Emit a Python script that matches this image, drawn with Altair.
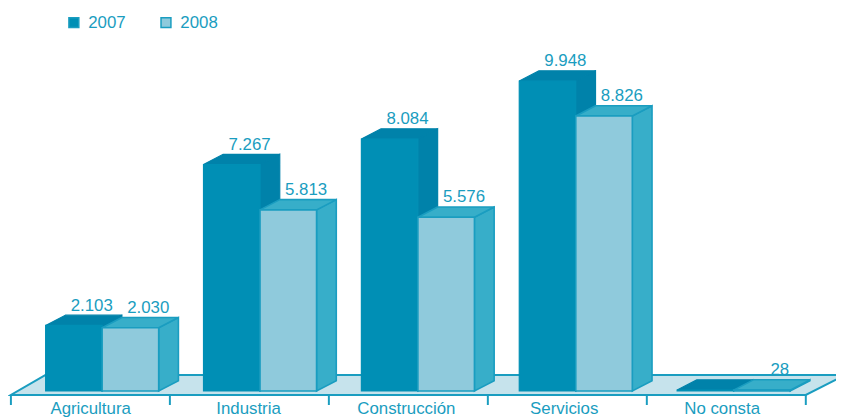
import altair as alt
import pandas as pd

categories = ["Agricultura", "Industria", "Construcción", "Servicios", "No consta"]
values_2007 = [2103, 7267, 8084, 9948, 30]
values_2008 = [2030, 5813, 5576, 8826, 28]
labels_2007 = ["2.103", "7.267", "8.084", "9.948", ""]
labels_2008 = ["2.030", "5.813", "5.576", "8.826", "28"]

BLUE = "#1a9dc0"
COL = {"2007": ("#008fb5", "#0082aa"), "2008": ("#8fcadc", "#37aec9")}
STEP = 159.4      # px per category
BAR = 0.358       # bar width, category units
DX = 0.125        # depth, category units
DY = 330          # depth, value units
FONT = 17

xs = alt.Scale(domain=[(8 - 46) / STEP, (844 - 46) / STEP], range=[0, 836], nice=False, zero=False)
ys = alt.Scale(domain=[-836, 12229], range=[411, 0], nice=False, zero=False)
X = lambda f: alt.X(f, scale=xs, axis=None)
Y = lambda f: alt.Y(f, scale=ys, axis=None)

bars, sides, tops = [], [], []
for i, c in enumerate(categories):
    for j, (s, vals, labs) in enumerate((("2007", values_2007, labels_2007), ("2008", values_2008, labels_2008))):
        v = vals[i]
        x0 = i + j * BAR
        x1 = x0 + BAR
        k = f"{c}-{s}"
        bars.append(dict(k=k, s=s, x0=x0, x1=x1, v=v, b=0, lab=labs[i], xc=(x0 + x1) / 2))
        sides += [dict(k=k, s=s, x=x1, y=v, y2=0), dict(k=k, s=s, x=x1 + DX, y=v + DY, y2=DY)]
        tops += [dict(k=k, s=s, y=v, x=x0, x2=x1), dict(k=k, s=s, y=v + DY, x=x0 + DX, x2=x1 + DX)]
bars, sides, tops = map(pd.DataFrame, (bars, sides, tops))

LEFT = -0.22
floor = pd.DataFrame([
    dict(y=-128, x=LEFT, x2=LEFT + 5.035),
    dict(y=514, x=LEFT + 0.22, x2=LEFT + 5.285),
])
ticks = pd.DataFrame(dict(x=[LEFT + i * 1.007 for i in range(6)], y=-128, y2=-450))
cats = pd.DataFrame(dict(c=categories, x=[LEFT + 0.505 + i for i in range(5)], y=-580))

layers = [
    alt.Chart(floor).mark_area(orient="horizontal", fill="#c6e3ec", stroke=BLUE, strokeWidth=2).encode(
        y=Y("y:Q"), x=X("x:Q"), x2="x2:Q"),
    alt.Chart(ticks).mark_rule(stroke=BLUE, strokeWidth=2).encode(x=X("x:Q"), y=Y("y:Q"), y2="y2:Q"),
]

for s in ("2007", "2008"):
    front, shade = COL[s]
    st = shade if s == "2007" else BLUE
    sw = 1.2 if s == "2007" else 1.6
    layers += [
        alt.Chart(sides[sides.s == s]).mark_area(orient="vertical", fill=shade, stroke=st, strokeWidth=sw).encode(
            x=X("x:Q"), y=Y("y:Q"), y2="y2:Q", detail="k:N"),
        alt.Chart(tops[tops.s == s]).mark_area(orient="horizontal", fill=shade, stroke=st, strokeWidth=sw).encode(
            y=Y("y:Q"), x=X("x:Q"), x2="x2:Q", detail="k:N"),
        alt.Chart(bars[bars.s == s]).mark_rect(stroke=st if s == "2008" else front, strokeWidth=sw).encode(
            x=X("x0:Q"), x2="x1:Q", y=Y("v:Q"), y2="b:Q",
            color=alt.Color("s:N", scale=alt.Scale(domain=["2007", "2008"], range=[COL["2007"][0], COL["2008"][0]]),
                            legend=alt.Legend(title=None, orient="none", legendX=58, legendY=4, direction="horizontal",
                                              symbolType="square", symbolSize=100, symbolStrokeWidth=1.5,
                                              symbolStrokeColor=BLUE, labelFontSize=FONT, labelColor=BLUE,
                                              labelFont="Liberation Sans", columnPadding=32, labelOffset=6))),
    ]

layers.append(
    alt.Chart(bars).mark_text(font="Liberation Sans", fontSize=FONT, color=BLUE, baseline="middle", align="center", dx=18, dy=-20).encode(
        x=X("xc:Q"), y=Y("v:Q"), text="lab:N"))
layers.append(
    alt.Chart(cats).mark_text(font="Liberation Sans", fontSize=FONT, color=BLUE, baseline="middle", align="center").encode(
        x=X("x:Q"), y=Y("y:Q"), text="c:N"))

chart = alt.layer(*layers).properties(
    width=836, height=411, padding=0, autosize=alt.AutoSizeParams(type="none")
).configure_view(stroke=None)

chart.save("out.html", embed_options={"renderer": "svg", "actions": False})
